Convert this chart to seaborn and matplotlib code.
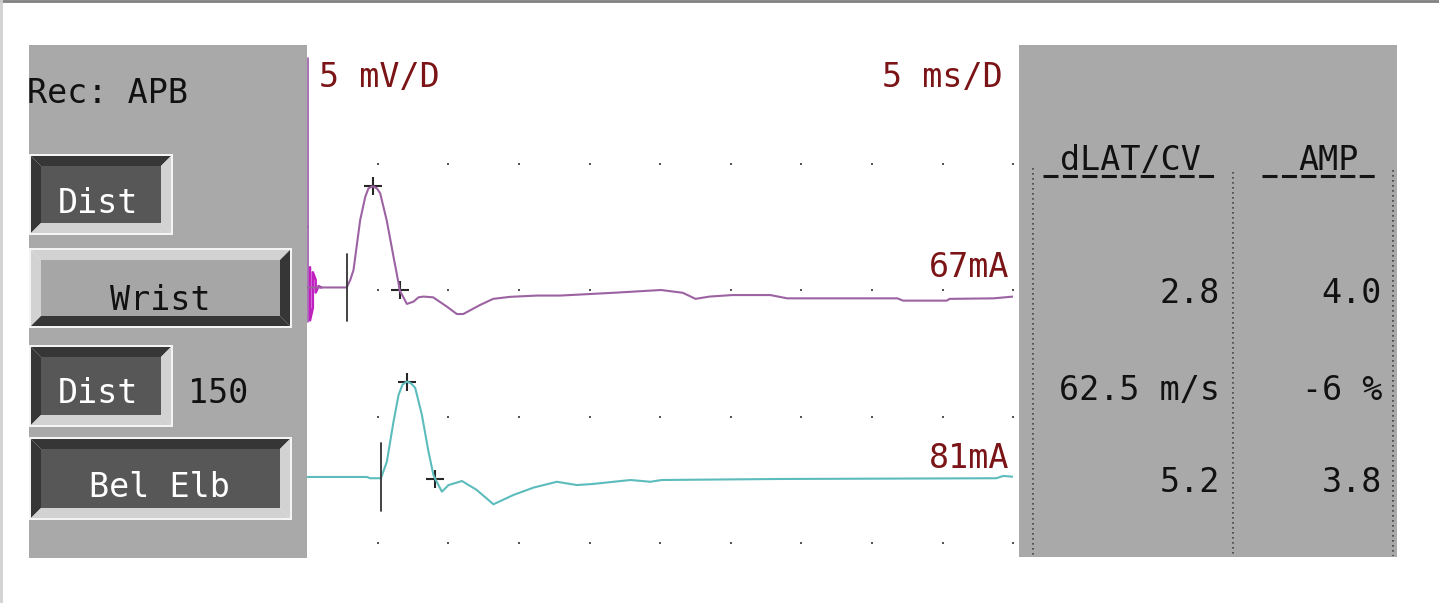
import numpy as np
import pandas as pd
import seaborn as sns
import matplotlib.pyplot as plt
from matplotlib.patches import Rectangle, Polygon

# CMAP traces: time in ms, amplitude in mV above baseline
wrist_ms = [0, 2.8, 3.05, 3.28, 3.75, 4.11, 4.34, 4.65, 4.93, 5.17, 5.64, 6.11, 6.47, 6.54,
            7.06, 7.53, 7.88, 8.24, 8.92, 9.9, 10.6, 11.05, 12.25, 13.17, 14.38, 16.27, 17.92,
            21.7, 25.05, 26.6, 27.5, 28.5, 30.1, 32.8, 34.0, 41.8, 42.2, 45.3, 45.5, 48.6, 50.0]
wrist_mv = [0, 0, 0.3, 0.69, 2.66, 3.58, 3.92, 4.0, 3.92, 3.72, 2.63, 1.22, 0.17, -0.1,
            -0.65, -0.56, -0.39, -0.36, -0.39, -0.76, -1.05, -1.05, -0.69, -0.45, -0.37, -0.32, -0.32,
            -0.21, -0.10, -0.21, -0.45, -0.36, -0.30, -0.30, -0.43, -0.43, -0.52, -0.52, -0.45, -0.43, -0.36]

elb_ms = [0, 4.23, 4.46, 5.22, 5.64, 6.11, 6.47, 6.75, 7.06, 7.35, 7.65, 8.12, 8.59, 8.94, 9.07,
          9.54, 10.01, 10.96, 12.0, 13.19, 14.61, 16.03, 17.68, 19.1, 20.16, 22.9, 24.3, 25.1,
          33.4, 48.8, 49.3, 50.0]
elb_mv = [0, 0, -0.05, -0.05, 0.60, 2.18, 3.24, 3.65, 3.77, 3.7, 3.52, 2.46, 1.0, 0.08, -0.08,
          -0.58, -0.32, -0.16, -0.51, -1.08, -0.71, -0.42, -0.19, -0.32, -0.28, -0.12, -0.19, -0.12,
          -0.08, -0.05, 0.04, 0.01]

# stimulus artifact at the start of the wrist trace
artifact_ms = [0.2, 0.2, 0.4, 0.4, 0.6, 0.6, 0.8, 1.0]
artifact_mv = [0.8, -1.3, -0.8, 0.6, 0.3, -0.2, 0.05, 0.0]

# cursors: onset latency and peak / negative crossing
onset_ms = [2.8, 5.2]
wrist_cur_ms = [4.65, 6.54]
wrist_cur_mv = [4.0, -0.1]
elb_cur_ms = [7.06, 9.07]
elb_cur_mv = [3.77, -0.08]

stim_labels = ['67mA', '81mA']
site_labels = ['Wrist', 'Bel Elb']
dlat_cv = ['2.8', '62.5 m/s', '5.2']
amp = ['4.0', '-6 %', '3.8']

# screen geometry (pixels)
W, H = 1439, 603
PX_MS, PX_MV = 14.12, 25.3
X0, Y0 = 307.2, 290.0
TOP, BOT = 45, 558
WRIST_BASE, ELB_BASE = 0.1, -7.39

PURPLE = '#9c62a2'
TEAL = '#5cbcbc'
MAROON = '#7b1416'
PANEL = '#a9a9a9'
FONT = 'DejaVu Sans Mono'
FS = 24

sns.set_style('white')
plt.rcParams['font.family'] = [FONT, 'DejaVu Sans']
plt.rcParams['lines.scale_dashes'] = False

fig = plt.figure(figsize=(W / 100, H / 100), dpi=100)
fig.patch.set_facecolor('white')

bg = fig.add_axes([0, 0, 1, 1])
bg.set_xlim(0, W)
bg.set_ylim(H, 0)
bg.axis('off')

# screen border
bg.plot([0, W], [1, 1], color='#808080', lw=2)
bg.plot([1, 1], [0, H], color='#d0d0d0', lw=2)

# side panels
bg.add_patch(Rectangle((29, TOP), 278, BOT - TOP, color=PANEL, lw=0))
bg.add_patch(Rectangle((1019, TOP), 378, 512, color=PANEL, lw=0))


def button(x0, y0, x1, y1, pressed, face):
    w = 10
    bg.add_patch(Rectangle((x0, y0), x1 - x0, y1 - y0, color='#f4f4f4', lw=0))
    xa, ya, xb, yb = x0 + 2, y0 + 2, x1 - 2, y1 - 2
    dark, light = '#363636', '#d2d2d2'
    tl, br = (dark, light) if pressed else (light, dark)
    bg.add_patch(Polygon([(xa, ya), (xb, ya), (xb - w, ya + w), (xa + w, ya + w)], color=tl, lw=0))
    bg.add_patch(Polygon([(xa, ya), (xa + w, ya + w), (xa + w, yb - w), (xa, yb)], color=tl, lw=0))
    bg.add_patch(Polygon([(xa, yb), (xa + w, yb - w), (xb - w, yb - w), (xb, yb)], color=br, lw=0))
    bg.add_patch(Polygon([(xb, ya), (xb, yb), (xb - w, yb - w), (xb - w, ya + w)], color=br, lw=0))
    bg.add_patch(Rectangle((xa + w, ya + w), xb - xa - 2 * w, yb - ya - 2 * w, color=face, lw=0))


button(29, 154, 173, 235, True, '#575757')
button(29, 248, 292, 328, False, '#a6a6a6')
button(29, 345, 173, 427, True, '#575757')
button(29, 437, 292, 520, True, '#575757')

txt = dict(fontsize=FS, family=FONT, va='baseline')
bg.text(27, 103, 'Rec: APB', color='#111111', ha='left', **txt)
bg.text(98, 213, 'Dist', color='white', ha='center', **txt)
bg.text(160, 310, site_labels[0], color='#111111', ha='center', **txt)
bg.text(98, 403, 'Dist', color='white', ha='center', **txt)
bg.text(188, 403, '150', color='#111111', ha='left', **txt)
bg.text(159, 497, site_labels[1], color='white', ha='center', **txt)

bg.text(319, 87, '5 mV/D', color=MAROON, ha='left', **txt)
bg.text(1003, 87, '5 ms/D', color=MAROON, ha='right', **txt)
bg.text(1009, 277, stim_labels[0], color=MAROON, ha='right', **txt)
bg.text(1009, 468, stim_labels[1], color=MAROON, ha='right', **txt)

# result table
bg.text(1060, 170, 'dLAT/CV', color='#111111', ha='left', **txt)
bg.text(1298, 170, 'AMP', color='#111111', ha='left', **txt)
bg.plot([1043, 1218], [176, 176], color='#151515', lw=2.2, dashes=(10.8, 3.2))
bg.plot([1262, 1375], [176, 176], color='#151515', lw=2.2, dashes=(10.8, 3.2))
for xv, y0 in [(1033, 168), (1233, 172), (1393, 170)]:
    bg.plot([xv, xv], [y0, 556], color='#4a4a4a', lw=1.3, dashes=(1.2, 2.4))
for yb, a, b in zip([303, 400, 492], dlat_cv, amp):
    bg.text(1220, yb, a, color='#111111', ha='right', **txt)
    bg.text(1382, yb, b, color='#111111', ha='right', **txt)

# waveform area
ax = fig.add_axes([X0 / W, (H - BOT) / H, 50 * PX_MS / W, (BOT - TOP) / H])
ax.set_xlim(0, 50)
ax.set_ylim((Y0 - BOT) / PX_MV, (Y0 - TOP) / PX_MV)
ax.axis('off')
ax.patch.set_alpha(0)

# division dots (5 ms/D, 5 mV/D)
gx, gy = np.meshgrid(np.arange(5, 51, 5), [5, 0, -5, -10])
grid = pd.DataFrame({'ms': gx.ravel(), 'mv': gy.ravel()})
sns.scatterplot(data=grid, x='ms', y='mv', marker='s', s=3, color='#555555',
                linewidth=0, ax=ax, clip_on=False)

# stimulus line
ax.plot([0.03, 0.03], [(Y0 - 58) / PX_MV, (Y0 - 227) / PX_MV], color='#9a5aa6', lw=1.2, clip_on=False)
ax.plot([0.08, 0.08], [(Y0 - 227) / PX_MV, -1.26], color='#9a5aa6', lw=1.2, clip_on=False)
sns.lineplot(x=artifact_ms, y=np.array(artifact_mv) + WRIST_BASE, sort=False,
             estimator=None, color='#c020c0', lw=1.8, ax=ax)

sns.lineplot(x=wrist_ms, y=np.array(wrist_mv) + WRIST_BASE, sort=False,
             estimator=None, color=PURPLE, lw=1.5, ax=ax)
sns.lineplot(x=elb_ms, y=np.array(elb_mv) + ELB_BASE, sort=False,
             estimator=None, color=TEAL, lw=1.5, ax=ax)

# onset cursors
for t, base in zip(onset_ms, [WRIST_BASE, ELB_BASE]):
    ax.plot([t, t], [base - 1.33, base + 1.33], color='#333333', lw=1.3)

sns.scatterplot(x=wrist_cur_ms, y=np.array(wrist_cur_mv) + WRIST_BASE, marker='+', s=150,
                color='#262626', linewidth=1.5, ax=ax)
sns.scatterplot(x=elb_cur_ms, y=np.array(elb_cur_mv) + ELB_BASE, marker='+', s=150,
                color='#262626', linewidth=1.5, ax=ax)

fig.savefig('out.png', dpi=100)
